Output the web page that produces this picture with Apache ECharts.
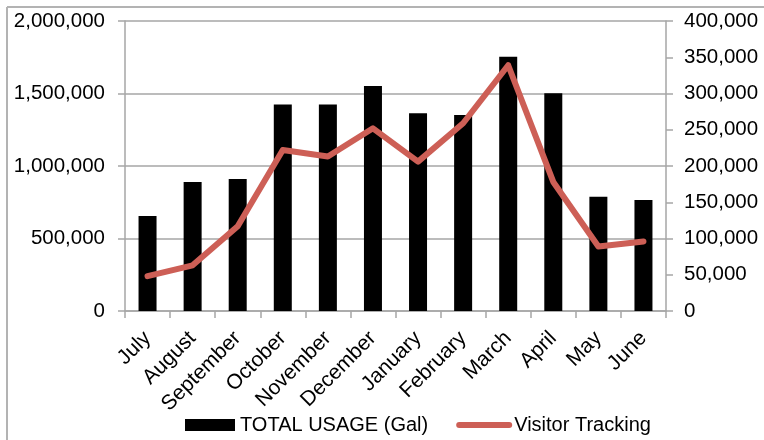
<!DOCTYPE html>
<html>
<head>
<meta charset="utf-8">
<script src="https://cdn.jsdelivr.net/npm/echarts@6/dist/echarts.min.js"></script>
<style>
html,body{margin:0;padding:0;background:#fff;}
#c{width:764px;height:440px;}
</style>
</head>
<body>
<div id="c"></div>
<script>
var months = ['July','August','September','October','November','December','January','February','March','April','May','June'];
var totalUsage = [655000, 890000, 910000, 1425000, 1425000, 1552000, 1363000, 1352000, 1754000, 1501000, 788000, 766000];
var visitorTracking = [48000, 63000, 117000, 222000, 213000, 252000, 206000, 259000, 339000, 178000, 89000, 96000];
var leftTicks = {min: 0, max: 2000000, interval: 500000};
var rightTicks = {min: 0, max: 400000, interval: 50000};

var FONT = '"Liberation Sans", Arial, Helvetica, sans-serif';
var AX = '#a6a6a6';
var RED = '#cd5f56';
function fmt(v){ return v.toString().replace(/\B(?=(\d{3})+(?!\d))/g, ','); }

var chart = echarts.init(document.getElementById('c'));
chart.setOption({
  backgroundColor: '#fff',
  animation: false,
  textStyle: {fontFamily: FONT},
  graphic: [
    {type: 'line', shape: {x1: 7, y1: 7, x2: 764, y2: 7}, style: {stroke: '#b3b3b3', lineWidth: 2}},
    {type: 'line', shape: {x1: 7, y1: 7, x2: 7, y2: 440}, style: {stroke: '#b3b3b3', lineWidth: 2}}
  ],
  grid: {left: 125, right: 98, top: 21, bottom: 129, containLabel: false},
  legend: {
    left: 180, top: 410,
    itemGap: 28, itemWidth: 50, itemHeight: 12,
    textStyle: {fontSize: 20, color: '#000', fontFamily: FONT},
    data: [
      {name: 'TOTAL USAGE (Gal)', icon: 'rect'},
      {name: 'Visitor Tracking', itemStyle: {opacity: 0, color: 'rgba(0,0,0,0)', borderWidth: 0},
       lineStyle: {width: 6, color: RED, cap: 'round'}}
    ]
  },
  xAxis: {
    type: 'category',
    data: months,
    boundaryGap: true,
    axisLine: {lineStyle: {color: AX, width: 1.5}},
    axisTick: {show: true, length: 7, lineStyle: {color: AX, width: 1.5}},
    axisLabel: {rotate: 45, fontSize: 21, color: '#000', margin: 24, fontFamily: FONT, interval: 0}
  },
  yAxis: [
    {
      type: 'value', min: leftTicks.min, max: leftTicks.max, interval: leftTicks.interval,
      position: 'left',
      axisLine: {show: true, lineStyle: {color: AX, width: 1.5}},
      axisTick: {show: true, length: 7, lineStyle: {color: AX, width: 1.5}},
      splitLine: {show: true, lineStyle: {color: AX, width: 1.5}},
      axisLabel: {fontSize: 20.5, color: '#000', margin: 20, formatter: fmt, fontFamily: FONT}
    },
    {
      type: 'value', min: rightTicks.min, max: rightTicks.max, interval: rightTicks.interval,
      position: 'right',
      axisLine: {show: true, lineStyle: {color: AX, width: 1.5}},
      axisTick: {show: true, length: 7, lineStyle: {color: AX, width: 1.5}},
      splitLine: {show: false},
      axisLabel: {fontSize: 20.5, color: '#000', margin: 18, formatter: fmt, fontFamily: FONT}
    }
  ],
  series: [
    {
      name: 'TOTAL USAGE (Gal)', type: 'bar', yAxisIndex: 0,
      data: totalUsage, barWidth: 18,
      itemStyle: {color: '#000'}
    },
    {
      name: 'Visitor Tracking', type: 'line', yAxisIndex: 1,
      data: visitorTracking, symbol: 'none', smooth: false,
      lineStyle: {color: RED, width: 6, cap: 'round', join: 'round'},
      itemStyle: {color: RED}
    }
  ]
});
</script>
</body>
</html>
